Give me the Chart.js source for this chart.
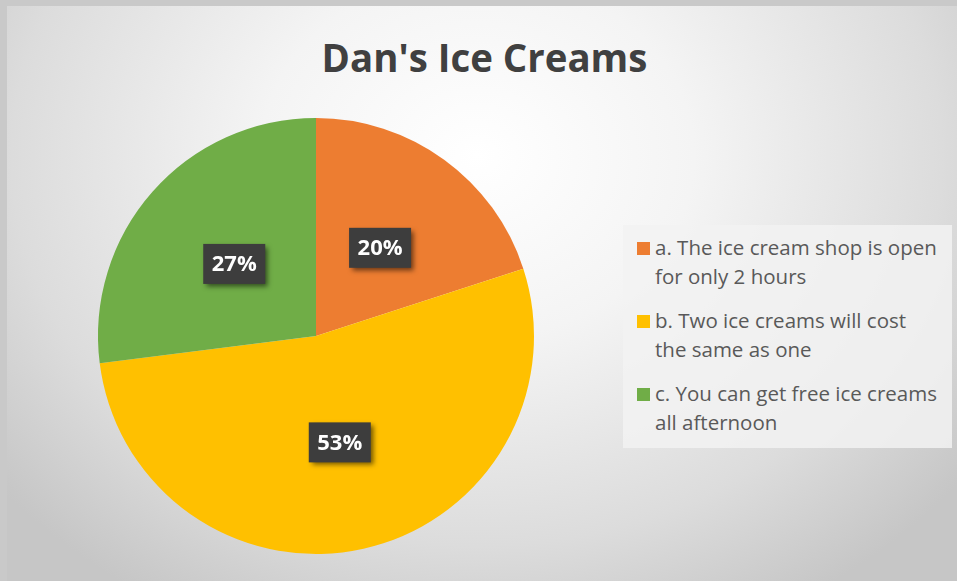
<!DOCTYPE html>
<html>
<head>
<meta charset="utf-8">
<script src="https://cdn.jsdelivr.net/npm/chart.js@4.4.1/dist/chart.umd.min.js"></script>
<style>
    html, body {
        margin: 0;
        padding: 0;
        width: 957px;
        height: 581px;
        overflow: hidden;
        background: #c9c9c9;
    }
    #quadro {
        position: absolute;
        left: 7px;
        top: 6px;
        width: 950px;
        height: 575px;
        background: radial-gradient(ellipse 620px 520px at 470px 150px, #ffffff 0%, #f4f4f4 35%, #dcdcdc 75%, #c6c6c6 100%);
    }
    #titulo {
        position: absolute;
        left: 6px;
        width: 957px;
        top: 29px;
        text-align: center;
        font-family: "Open Sans", sans-serif;
        font-weight: bold;
        font-size: 40px;
        color: #404040;
        transform: scaleX(0.96);
    }
    #legenda {
        position: absolute;
        left: 623px;
        top: 225px;
        width: 329px;
        height: 223px;
        background: rgba(242, 242, 242, 0.85);
        font-family: "Open Sans", sans-serif;
        font-size: 20.5px;
        color: #595959;
    }
    .item {
        position: absolute;
        left: 32px;
        line-height: 29px;
        white-space: nowrap;
    }
    .item .cor {
        position: absolute;
        left: -18px;
        top: 9px;
        width: 13px;
        height: 13px;
    }
    canvas { position: absolute; left: 0; top: 0; }
</style>
</head>
<body>
<div id="quadro"></div>
<div id="titulo">Dan's Ice Creams</div>
<div id="legenda"></div>
<canvas id="graficoSorvetes" width="957" height="581"></canvas>
<script>
const opcoes = ['a. The ice cream shop is open for only 2 hours', 'b. Two ice creams will cost the same as one', 'c. You can get free ice creams all afternoon'];
const linhasLegenda = [['a. The ice cream shop is open', 'for only 2 hours'], ['b. Two ice creams will cost', 'the same as one'], ['c. You can get free ice creams', 'all afternoon']];
const percentuais = [20, 53, 27];
const cores = ['#ED7D31', '#FFC000', '#70AD47'];

// caixinhas escuras com o percentual no meio de cada fatia
const rotulosFatias = {
    id: 'rotulosFatias',
    afterDatasetsDraw(chart) {
        const ctx = chart.ctx;
        const meta = chart.getDatasetMeta(0);
        meta.data.forEach((arco, i) => {
            const p = arco.getCenterPoint();
            const texto = percentuais[i] + '%';
            ctx.save();
            ctx.font = 'bold 22px "Open Sans"';
            const w = 62, h = 40;
            ctx.shadowColor = 'rgba(0,0,0,0.55)';
            ctx.shadowBlur = 5;
            ctx.shadowOffsetX = 3;
            ctx.shadowOffsetY = 3;
            ctx.fillStyle = '#3d3d3d';
            ctx.fillRect(p.x - w / 2, p.y - h / 2, w, h);
            ctx.shadowColor = 'transparent';
            ctx.fillStyle = '#ffffff';
            ctx.textAlign = 'center';
            ctx.textBaseline = 'middle';
            ctx.fillText(texto, p.x, p.y + 1);
            ctx.restore();
        });
    }
};

function montarLegenda() {
    const div = document.getElementById('legenda');
    linhasLegenda.forEach((linhas, i) => {
        const item = document.createElement('div');
        item.className = 'item';
        item.style.top = (8 + i * 73) + 'px';
        item.innerHTML = '<span class="cor" style="background:' + cores[i] + '"></span>' + linhas.join('<br>');
        div.appendChild(item);
    });
}

function criarGrafico() {
    const ctx = document.getElementById('graficoSorvetes').getContext('2d');
    window.graficoSorvetes = new Chart(ctx, {
        type: 'pie',
        data: {
            labels: opcoes,
            datasets: [{
                data: percentuais,
                backgroundColor: cores,
                borderWidth: 0
            }]
        },
        options: {
            responsive: false,
            animation: false,
            layout: { padding: { left: 98, right: 423, top: 118, bottom: 27 } },
            plugins: {
                legend: { display: false },
                tooltip: { enabled: false }
            }
        },
        plugins: [rotulosFatias]
    });
}

window.addEventListener('DOMContentLoaded', () => {
    montarLegenda();
    criarGrafico();
});
</script>
</body>
</html>
